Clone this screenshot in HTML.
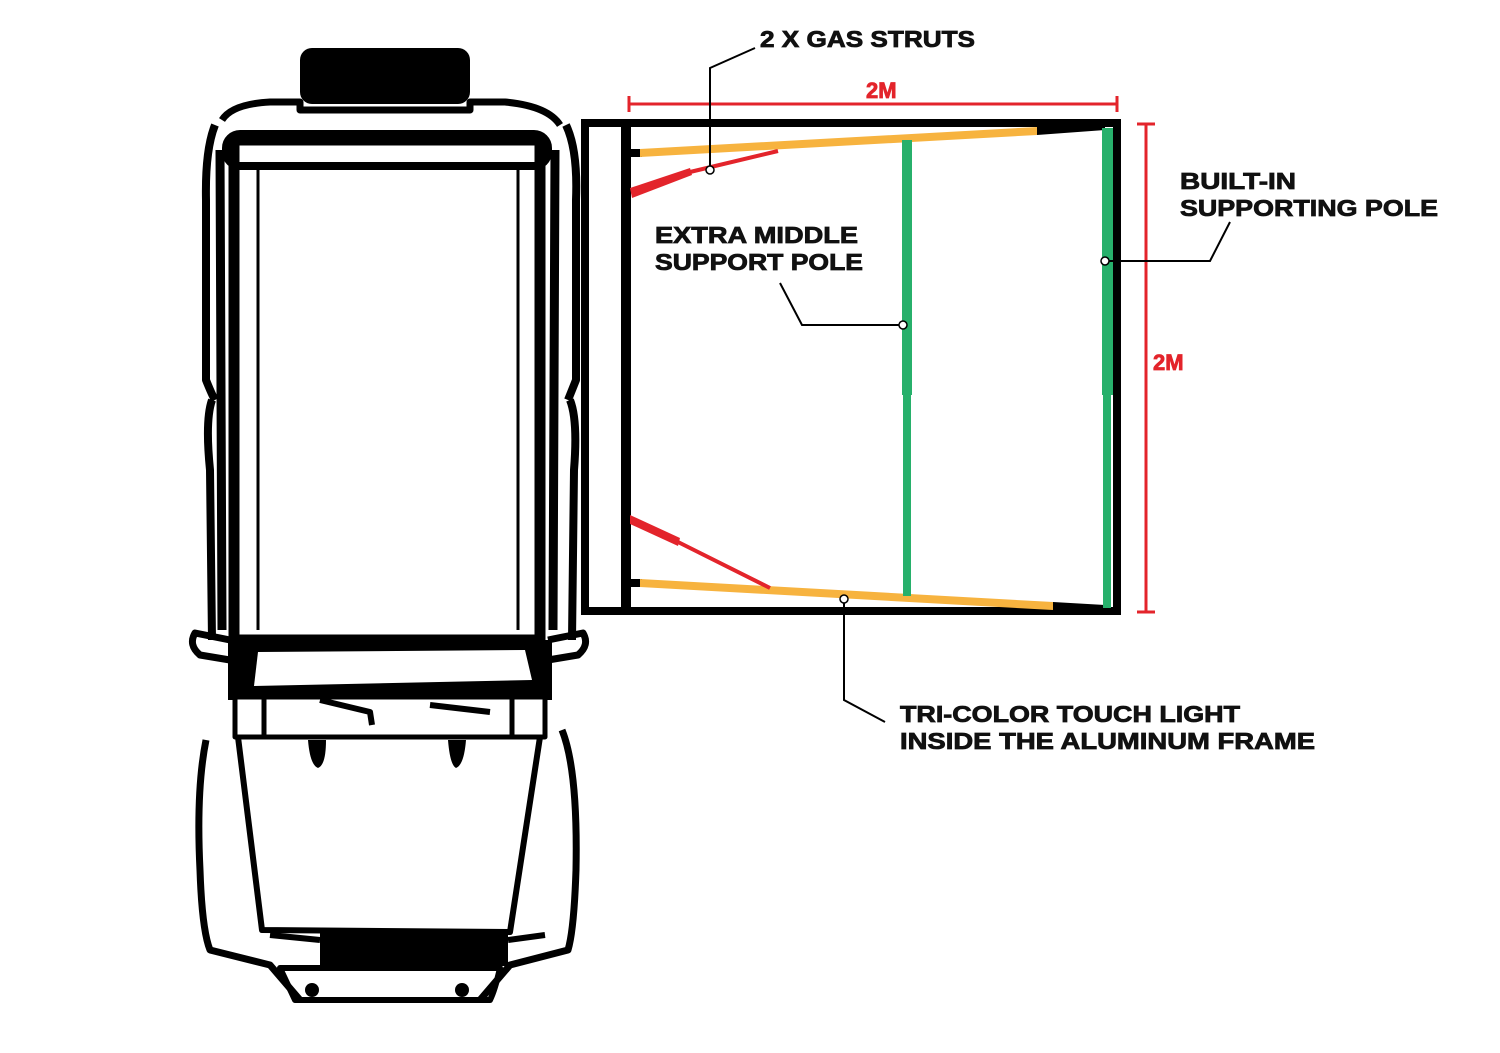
<!DOCTYPE html>
<html><head><meta charset="utf-8"><style>
html,body{margin:0;padding:0;background:#fff;}
svg{display:block;}
text{font-family:"Liberation Sans",sans-serif;font-weight:bold;}
</style></head><body>
<svg width="1500" height="1053" viewBox="0 0 1500 1053" xmlns="http://www.w3.org/2000/svg">
<rect width="1500" height="1053" fill="#fff"/>
<!-- CAR -->
<g fill="none" stroke="#000" stroke-linejoin="round">
  <rect x="300" y="48" width="170" height="56" rx="12" fill="#000" stroke="none"/>
  <path d="M222 120 Q232 104 270 102 L300 102 L300 110 L470 110 L470 102 L505 102 Q548 106 560 125" stroke-width="7"/>
  <path d="M215 125 Q205 150 206 200 L206 380 Q212 395 215 400" stroke-width="8"/>
  <path d="M566 125 Q578 150 576 200 L576 380 Q570 395 568 400" stroke-width="8"/>
  <path d="M212 400 Q205 420 210 470 L212 640" stroke-width="8"/>
  <path d="M570 400 Q578 420 574 470 L572 640" stroke-width="8"/>
  <rect x="234" y="140" width="306" height="500" stroke-width="11"/>
  <rect x="226" y="134" width="322" height="32" rx="14" stroke-width="8"/>
  <line x1="258" y1="168" x2="258" y2="630" stroke-width="3"/>
  <line x1="518" y1="168" x2="518" y2="630" stroke-width="3"/>
  <path d="M220 150 L222 630 M555 150 L553 630" stroke-width="9"/>
  <!-- mirrors -->
  <path d="M230 640 L195 633 Q188 645 200 655 L230 660" stroke-width="7"/>
  <path d="M548 640 L583 633 Q590 645 578 655 L548 660" stroke-width="7"/>
  <!-- windshield area -->
  <path d="M228 640 L552 640 L552 700 L228 700 Z" fill="#000" stroke="none"/>
  <path d="M258 652 L525 650 L532 680 L254 686 Z" fill="#fff" stroke="none"/>
  <rect x="235" y="697" width="310" height="40" fill="#fff" stroke="#000" stroke-width="5"/>
  <line x1="264" y1="697" x2="264" y2="737" stroke-width="5"/>
  <line x1="512" y1="697" x2="512" y2="737" stroke-width="5"/>
  <path d="M320 700 L370 712 L372 725 M430 705 L490 712" stroke-width="6"/>
  <!-- hood -->
  <path d="M238 737 L262 930 L510 932 L540 737" stroke-width="6"/>
  <path d="M308 740 Q310 765 318 768 Q326 765 326 740 Z M448 740 Q450 765 456 768 Q464 765 466 740 Z" fill="#000" stroke="none"/>
  <!-- fenders -->
  <path d="M206 740 Q196 790 200 870 Q202 930 210 950 L270 965 L300 1000" stroke-width="7"/>
  <path d="M562 730 Q578 770 576 870 Q574 930 568 950 L510 965 L480 1000" stroke-width="7"/>
  <!-- bumper -->
  <rect x="320" y="932" width="188" height="34" fill="#000" stroke="none"/>
  <path d="M270 935 L320 940 M508 940 L545 935" stroke-width="6"/>
  <path d="M280 968 L500 968 Q495 990 490 1000 L295 1000 Q288 985 280 968 Z" stroke-width="6"/>
  <circle cx="312" cy="990" r="7" fill="#000" stroke="none"/>
  <circle cx="462" cy="990" r="7" fill="#000" stroke="none"/>
</g>
<!-- AWNING FRAME -->
<rect x="585" y="123" width="532" height="488" fill="none" stroke="#000" stroke-width="8"/>
<line x1="626" y1="119" x2="626" y2="615" stroke="#000" stroke-width="10"/>
<!-- top arm -->
<line x1="630" y1="153" x2="642" y2="153" stroke="#000" stroke-width="8"/>
<polygon points="640,149 1037,127 1037,135 640,157" fill="#f7b33f"/>
<polygon points="1037,127 1105,125 1105,130 1037,135" fill="#000"/>
<polygon points="630,188 690,168 692,175 632,198" fill="#e3242b"/>
<line x1="690" y1="172" x2="778" y2="151" stroke="#e3242b" stroke-width="4"/>
<!-- bottom arm -->
<line x1="630" y1="583" x2="642" y2="583" stroke="#000" stroke-width="8"/>
<polygon points="640,579 1053,602 1053,610 640,587" fill="#f7b33f"/>
<polygon points="1053,602 1105,605 1105,609 1053,610" fill="#000"/>
<polygon points="630,515 680,538 678,546 630,524" fill="#e3242b"/>
<line x1="678" y1="542" x2="770" y2="588" stroke="#e3242b" stroke-width="4"/>
<!-- poles -->
<rect x="902" y="140" width="10" height="255" fill="#27b06b"/>
<rect x="903" y="394" width="8" height="202" fill="#27b06b"/>
<rect x="1102" y="128" width="11" height="267" fill="#27b06b"/>
<rect x="1103" y="394" width="8" height="214" fill="#27b06b"/>
<!-- dimensions -->
<g stroke="#e3242b" stroke-width="3">
  <line x1="629" y1="104" x2="1117" y2="104"/>
  <line x1="629" y1="96" x2="629" y2="112"/>
  <line x1="1117" y1="96" x2="1117" y2="112"/>
  <line x1="1146" y1="124" x2="1146" y2="612"/>
  <line x1="1137" y1="124" x2="1155" y2="124"/>
  <line x1="1137" y1="612" x2="1155" y2="612"/>
</g>
<g stroke="#e3242b" stroke-width="0.8">
<text x="866" y="98" font-size="22" fill="#e3242b">2M</text>
<text x="1153" y="370" font-size="22" fill="#e3242b">2M</text>
</g>
<!-- leaders -->
<g fill="none" stroke="#000" stroke-width="2">
  <polyline points="710,170 710,68 755,48"/>
  <polyline points="1105,261 1210,261 1230,222"/>
  <polyline points="780,283 802,325 903,325"/>
  <polyline points="844,599 844,700 885,722"/>
</g>
<g fill="#fff" stroke="#000" stroke-width="1.5">
  <circle cx="710" cy="170" r="4"/>
  <circle cx="1105" cy="261" r="4"/>
  <circle cx="903" cy="325" r="4"/>
  <circle cx="844" cy="599" r="4"/>
</g>
<g font-size="23" fill="#111" stroke="#111" stroke-width="0.8">
  <text x="760" y="47" textLength="215" lengthAdjust="spacingAndGlyphs">2 X GAS STRUTS</text>
  <text x="1180" y="189" textLength="116" lengthAdjust="spacingAndGlyphs">BUILT-IN</text>
  <text x="1180" y="216" textLength="258" lengthAdjust="spacingAndGlyphs">SUPPORTING POLE</text>
  <text x="655" y="243" textLength="203" lengthAdjust="spacingAndGlyphs">EXTRA MIDDLE</text>
  <text x="655" y="270" textLength="208" lengthAdjust="spacingAndGlyphs">SUPPORT POLE</text>
  <text x="900" y="722" textLength="340" lengthAdjust="spacingAndGlyphs">TRI-COLOR TOUCH LIGHT</text>
  <text x="900" y="749" textLength="415" lengthAdjust="spacingAndGlyphs">INSIDE THE ALUMINUM FRAME</text>
</g>
</svg>
</body></html>
